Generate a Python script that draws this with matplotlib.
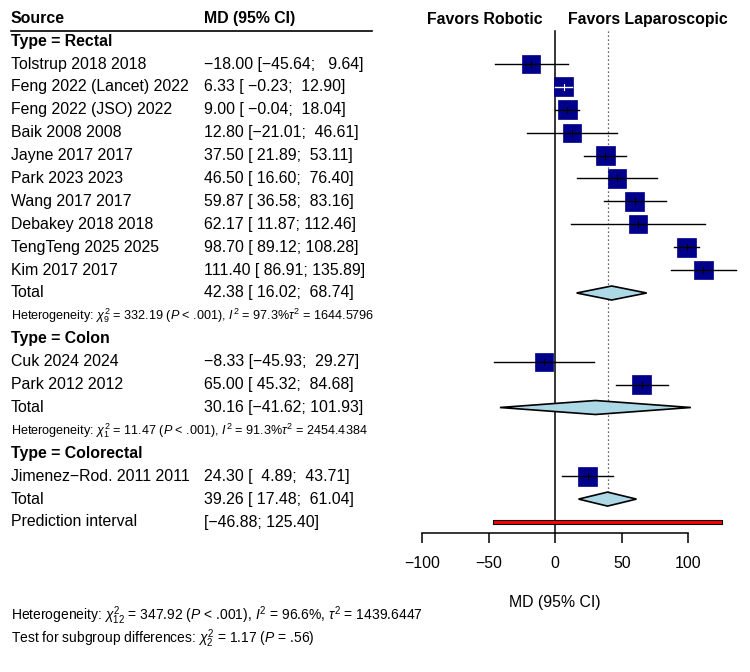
import matplotlib
matplotlib.use('Agg')
import matplotlib.pyplot as plt
from matplotlib.patches import Rectangle, Polygon

plt.rcParams['font.family'] = ['Liberation Sans', 'DejaVu Sans']
plt.rcParams['mathtext.fontset'] = 'custom'
plt.rcParams['mathtext.rm'] = 'Liberation Sans'
plt.rcParams['mathtext.it'] = 'Liberation Sans:italic'
plt.rcParams['mathtext.bf'] = 'Liberation Sans:bold'

# ── data ───────────────────────────────────────────────────────────────────────
groups = ["Rectal", "Colon", "Colorectal"]

rectal_names = ["Tolstrup 2018 2018", "Feng 2022 (Lancet) 2022", "Feng 2022 (JSO) 2022",
                "Baik 2008 2008", "Jayne 2017 2017", "Park 2023 2023", "Wang 2017 2017",
                "Debakey 2018 2018", "TengTeng 2025 2025", "Kim 2017 2017"]
rectal_md = [-18.00, 6.33, 9.00, 12.80, 37.50, 46.50, 59.87, 62.17, 98.70, 111.40]
rectal_lo = [-45.64, -0.23, -0.04, -21.01, 21.89, 16.60, 36.58, 11.87, 89.12, 86.91]
rectal_hi = [9.64, 12.90, 18.04, 46.61, 53.11, 76.40, 83.16, 112.46, 108.28, 135.89]
rectal_w = [7.2, 7.9, 7.9, 7.0, 7.7, 7.4, 7.8, 6.9, 7.8, 7.4]

colon_names = ["Cuk 2024 2024", "Park 2012 2012"]
colon_md = [-8.33, 65.00]
colon_lo = [-45.93, 45.32]
colon_hi = [29.27, 84.68]
colon_w = [6.9, 7.7]

crect_names = ["Jimenez\u2212Rod. 2011 2011"]
crect_md = [24.30]
crect_lo = [4.89]
crect_hi = [43.71]
crect_w = [7.7]

total_md = [42.38, 30.16, 39.26]
total_lo = [16.02, -41.62, 17.48]
total_hi = [68.74, 101.93, 61.04]

het_text = [r"Heterogeneity: $\chi^2_{9}$ = 332.19 ($P$ < .001), $I^2$ = 97.3%$\tau^2$ = 1644.5796",
            r"Heterogeneity: $\chi^2_{1}$ = 11.47 ($P$ < .001), $I^2$ = 91.3%$\tau^2$ = 2454.4384",
            None]

pi_lo, pi_hi = -46.88, 125.40
overall_md = 39.26

xticks = [-100, -50, 0, 50, 100]
overall_het = r"Heterogeneity: $\chi^2_{12}$ = 347.92 ($P$ < .001), $I^2$ = 96.6%, $\tau^2$ = 1439.6447"
subgroup_test = r"Test for subgroup differences: $\chi^2_{2}$ = 1.17 ($P$ = .56)"

study_sets = [(rectal_names, rectal_md, rectal_lo, rectal_hi, rectal_w),
              (colon_names, colon_md, colon_lo, colon_hi, colon_w),
              (crect_names, crect_md, crect_lo, crect_hi, crect_w)]


def fmt(v, width=6):
    return f"{v:{width}.2f}".replace('-', '\u2212')


def ci_text(m, lo, hi):
    return f"{fmt(m, 0)} [{fmt(lo)}; {fmt(hi)}]"


# ── layout (pixels) ────────────────────────────────────────────────────────────
W, H = 750, 672
X0, SCALE = 555.3, 1.33          # pixel of MD=0, pixels per unit
Y_TOP, STEP = 18.2, 22.9
FS, FS_SMALL, FS_NOTE = 11.4, 9.1, 10
NAVY = '#00008B'


def px(p):
    return (p - X0) / SCALE


def rowy(i):
    return Y_TOP + STEP * i


fig = plt.figure(figsize=(W / 100, H / 100), dpi=100)
ax = fig.add_axes([0, 0, 1, 1])
ax.set_xlim(px(0), px(W))
ax.set_ylim(H, 0)

x_name, x_val = px(11), px(204)

# header
ax.text(x_name, rowy(0), "Source", fontsize=FS, fontweight='bold', va='center')
ax.text(x_val, rowy(0), "MD (95% CI)", fontsize=FS, fontweight='bold', va='center')
ax.text(px(543), rowy(0) + 1, "Favors Robotic", fontsize=FS, fontweight='bold', va='center', ha='right')
ax.text(px(568), rowy(0) + 1, "Favors Laparoscopic", fontsize=FS, fontweight='bold', va='center', ha='left')
ax.plot([px(11), px(372)], [31, 31], color='black', lw=1.2)

row = 1
for g, (names, mds, los, his, ws), tm, tl, th, ht in zip(groups, study_sets, total_md, total_lo,
                                                           total_hi, het_text):
    ax.text(x_name, rowy(row), f"Type = {g}", fontsize=FS, fontweight='bold', va='center')
    row += 1
    for n, m, lo, hi, w in zip(names, mds, los, his, ws):
        y = rowy(row)
        ax.text(x_name, y, n, fontsize=FS, va='center')
        ax.text(x_val, y, ci_text(m, lo, hi), fontsize=FS, va='center')
        s = 6.8 * w ** 0.5          # box side in px
        half = s / 2 / SCALE
        ax.add_patch(Rectangle((m - half, y - s / 2), 2 * half, s, facecolor=NAVY,
                               edgecolor=NAVY, lw=0.5, zorder=3))
        inside = lo > m - half and hi < m + half
        ax.plot([lo, hi], [y, y], color='white' if inside else 'black', lw=1, zorder=4)
        ax.plot([m, m], [y - 3, y + 3], color='white' if inside else 'black', lw=0.8, zorder=4)
        row += 1
    y = rowy(row)
    ax.text(x_name, y, "Total", fontsize=FS, va='center')
    ax.text(x_val, y, ci_text(tm, tl, th), fontsize=FS, va='center')
    ax.add_patch(Polygon([(tl, y), (tm, y - 7), (th, y), (tm, y + 7)], closed=True,
                         facecolor='#ADD8E6', edgecolor='black', lw=1.2, zorder=3))
    row += 1
    if ht:
        ax.text(x_name, rowy(row), ht, fontsize=FS_SMALL, va='center')
        row += 1

# prediction interval
y = rowy(row)
ax.text(x_name, y, "Prediction interval", fontsize=FS, va='center')
ax.text(x_val, y, f"[{fmt(pi_lo)}; {fmt(pi_hi)}]", fontsize=FS, va='center')
ax.add_patch(Rectangle((pi_lo, y - 2.2), pi_hi - pi_lo, 4.4, facecolor='red',
                       edgecolor='black', lw=0.8, zorder=3))

axis_y = rowy(row + 0.5)

# reference lines
ax.plot([0, 0], [31, axis_y], color='black', lw=1.1, zorder=2)
ax.plot([overall_md, overall_md], [31, rowy(row - 1) - 7], color='#333333', lw=0.9,
        ls=(0, (1, 2.2)), zorder=1)

# x axis
for side in ['top', 'left', 'right']:
    ax.spines[side].set_visible(False)
ax.spines['bottom'].set_position(('data', axis_y))
ax.spines['bottom'].set_bounds(xticks[0], xticks[-1])
ax.spines['bottom'].set_linewidth(1.1)
ax.set_xticks(xticks)
ax.tick_params(axis='x', direction='out', length=7.5, width=1.1, labelsize=FS, pad=9)
ax.set_yticks([])
ax.text(0, 603, "MD (95% CI)", fontsize=FS, ha='center', va='center')

# bottom notes
ax.text(x_name, 616, overall_het, fontsize=FS_NOTE, va='center')
ax.text(x_name, 639, subgroup_test, fontsize=FS_NOTE, va='center')

fig.savefig("out.png", dpi=100)
